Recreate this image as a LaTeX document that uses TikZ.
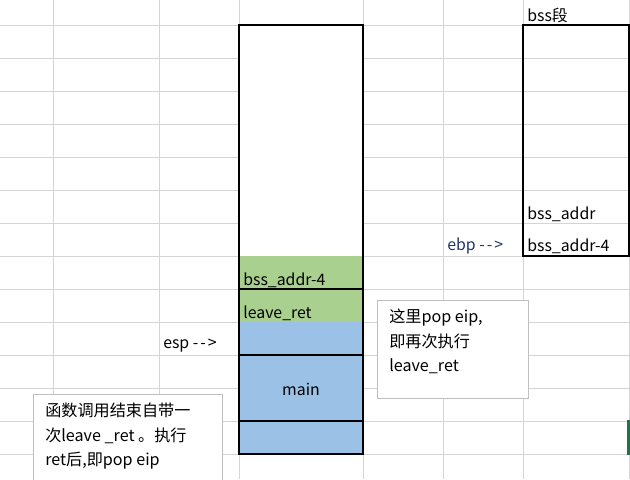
\documentclass[tikz,border=0pt]{standalone}
\usepackage{fontspec}
\setmainfont{Noto Sans CJK SC}
\definecolor{gridgray}{HTML}{D4D4D4}
\definecolor{cellgreen}{HTML}{A9D08E}
\definecolor{cellblue}{HTML}{9BC2E6}
\definecolor{navy}{HTML}{1F3864}
\definecolor{notegray}{HTML}{BFBFBF}
\definecolor{xlgreen}{HTML}{217346}
\newcommand{\myarrow}{-\kern1.5pt-\kern1.5pt>}
\begin{document}
\begin{tikzpicture}[x=0.75pt,y=-0.75pt,
  gridline/.style={draw=gridgray,line width=0.75pt},
  border/.style={draw=black,line width=0.8pt},
  thickborder/.style={draw=black,line width=1.6pt},
  celltext/.style={anchor=west,inner sep=0pt,font=\fontsize{11.9}{13}\selectfont,text=black},
  notebox/.style={draw=notegray,fill=white,line width=0.75pt},
  notetext/.style={anchor=north west,inner sep=0pt,align=left,font=\fontsize{12.1}{18.4}\selectfont,text=black}]
\useasboundingbox (0,0) rectangle (630,479);
\clip (0,0) rectangle (630,479);
\fill[white] (0,0) rectangle (630,479);
% spreadsheet grid
\foreach \y in {25,58,91,124,157,190,223,256,289,322,355,388,421,454}
  \draw[gridline] (0,\y) -- (630,\y);
\foreach \x in {53,159,239,363,443,523,629}
  \draw[gridline] (\x,0) -- (\x,479);
% stack column
\fill[white] (239,25) rectangle (363,256);
\fill[cellgreen] (239,256) rectangle (363,322);
\fill[cellblue] (239,322) rectangle (363,454);
\draw[border] (239,25) rectangle (363,454);
\draw[border] (239,289) -- (363,289);
\draw[thickborder] (239,355) rectangle (363,421);
% bss column
\draw[border] (523,25) rectangle (629,256);
% selection mark
\fill[xlgreen] (627,420) rectangle (630,455);
% cell texts
\node[celltext] (bssseg) at (527,15) {bss段};
\node[celltext] (bssaddr) at (527,214) {bss\_addr};
\node[celltext] (bssaddrm) at (527,246) {bss\_addr-4};
\node[celltext,text=navy] (ebp) at (447,246) {ebp \myarrow};
\node[celltext] (stkbss) at (243,280) {bss\_addr-4};
\node[celltext] (stkleave) at (243,313) {leave\_ret};
\node[celltext] (esp) at (163,346) {esp \myarrow};
\node[celltext,anchor=center] (main) at (301,389) {main};
% comments
\draw[notebox] (33,394) rectangle (222,490);
\node[notetext] (note1) at (45,403) {函数调用结束自带一\\次leave \_ret 。执行\\ret后,即pop eip};
\draw[notebox] (377,300) rectangle (528,398);
\node[notetext] (note2) at (389,309) {这里pop eip,\\即再次执行\\leave\_ret};
\end{tikzpicture}
\end{document}
